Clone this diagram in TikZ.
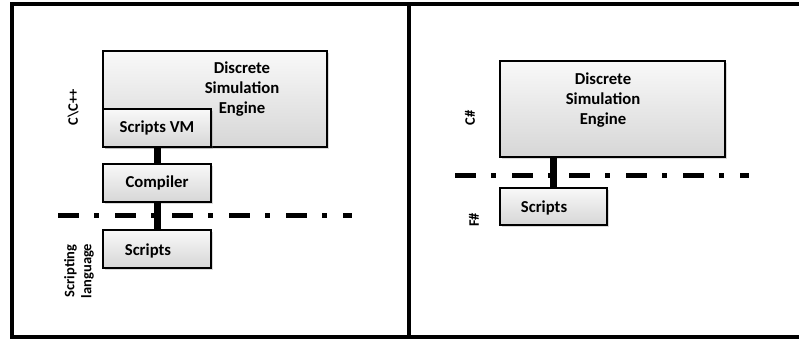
\documentclass[tikz,border=0pt]{standalone}
\usepackage{fontspec}
\setmainfont{Carlito}
\usetikzlibrary{shadows}
\begin{document}
\begin{tikzpicture}[x=1pt,y=-1pt,
  box/.style={draw=black, line width=2.5pt, top color=gray!5, bottom color=gray!32,
    drop shadow={opacity=0.3, shadow xshift=1.5pt, shadow yshift=-1.5pt},
    font=\bfseries\fontsize{16.7}{20}\selectfont, inner sep=0pt},
  txt/.style={font=\bfseries\fontsize{16.7}{20}\selectfont, align=center, inner sep=0pt},
  side/.style={font=\bfseries\fontsize{14.5}{17}\selectfont, align=center, rotate=90, inner sep=0pt},
  link/.style={line width=7pt},
  sepline/.style={line width=5pt, dash pattern=on 21pt off 15pt on 5pt off 16pt},
  frame/.style={line width=4pt, line join=miter}]
\useasboundingbox (0,0) rectangle (799,340);

% frame
\coordinate (f1) at (799,4);
\coordinate (f2) at (12,4);
\coordinate (f3) at (12,337);
\coordinate (f4) at (799,337);
\coordinate (m1) at (409,4);
\coordinate (m2) at (409,337);
\draw[frame] (f1) -- (f2) -- (f3) -- (f4);
\draw[frame] (m1) -- (m2);

% left panel
\node[box, minimum width=224pt, minimum height=96pt] (ldse) at (215,99) {};
\node[txt] (ldset) at (242,89) {Discrete\\Simulation\\Engine};
\node[box, minimum width=108pt, minimum height=38pt] (vm) at (157,128) {Scripts VM};
\node[box, minimum width=108pt, minimum height=38pt] (comp) at (157,183) {Compiler};
\node[box, minimum width=108pt, minimum height=38pt] (lscr) at (157,249) {};
\node[txt] (lscrt) at (148,251) {Scripts};
\draw[link] (vm.south) -- (comp.north);
\draw[link] (comp.south) -- (lscr.north);
\coordinate (s1) at (58,215);
\coordinate (s2) at (352,215);
\draw[sepline] (s1) -- (s2);
\node[side] (lc) at (73,107) {C\textbackslash C++};
\node[side] (ls) at (79,271) {Scripting\\language};

% right panel
\node[box, minimum width=225pt, minimum height=96pt] (rdse) at (612.5,109) {};
\node[txt] (rdset) at (603,100) {Discrete\\Simulation\\Engine};
\node[box, minimum width=107pt, minimum height=37pt] (rscr) at (553.5,206.5) {};
\node[txt] (rscrt) at (544,208) {Scripts};
\draw[link] (rscr.north) -- (rscr.north |- rdse.south);
\coordinate (s3) at (455,175);
\coordinate (s4) at (749,175);
\draw[sepline] (s3) -- (s4);
\node[side] (rc) at (470,118) {C\#};
\node[side] (rf) at (474,220) {F\#};
\end{tikzpicture}
\end{document}
